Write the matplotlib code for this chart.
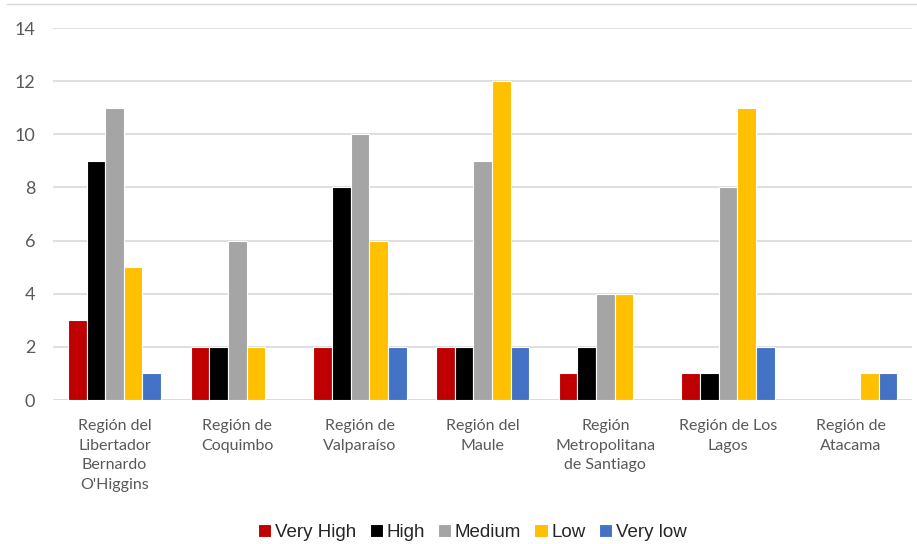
import numpy as np
import matplotlib.pyplot as plt
from matplotlib.lines import Line2D

regions = ["Región del\nLibertador\nBernardo\nO'Higgins", "Región de\nCoquimbo",
           "Región de\nValparaíso", "Región del\nMaule", "Región\nMetropolitana\nde Santiago",
           "Región de Los\nLagos", "Región de\nAtacama"]
levels = ["Very High", "High", "Medium", "Low", "Very low"]
very_high = [3, 2, 2, 2, 1, 1, 0]
high = [9, 2, 8, 2, 2, 1, 0]
medium = [11, 6, 10, 9, 4, 8, 0]
low = [5, 2, 6, 12, 4, 11, 1]
very_low = [1, 0, 2, 2, 0, 2, 1]
colors = ["#C00000", "#000000", "#A5A5A5", "#FFC000", "#4472C4"]

series = [very_high, high, medium, low, very_low]

fig = plt.figure(figsize=(9.17, 5.44), dpi=100)
ax = fig.add_axes([0.058, 0.2647, 0.9365, 0.6838])

x = np.arange(len(regions))
w = 0.152
for i, (vals, c) in enumerate(zip(series, colors)):
    ax.bar(x + (i - 2) * w, vals, w, color=c, edgecolor="white", linewidth=0.8,
           label=levels[i], zorder=3)

ax.set_xlim(-0.5, len(regions) - 0.5)
ax.set_ylim(0, 14)
ax.set_yticks(range(0, 15, 2))
ax.yaxis.grid(True, color="#D9D9D9", linewidth=1.2, zorder=0)
for s in ax.spines.values():
    s.set_visible(False)
ax.axhline(0, color="#D9D9D9", linewidth=1.2, zorder=1)
ax.tick_params(length=0)
ax.tick_params(axis="y", labelsize=13, labelcolor="#595959", pad=13)
ax.set_xticks(x)
ax.set_xticklabels(regions, fontsize=11.5, color="#595959", linespacing=1.5)
ax.tick_params(axis="x", pad=14)
for t in ax.get_xticklabels() + ax.get_yticklabels():
    t.set_family("Lato")

# thin frame line along the top of the chart area
fig.add_artist(Line2D([0.008, 1.0], [0.993, 0.993], color="#D9D9D9", linewidth=1))

leg = fig.legend(loc="lower center", bbox_to_anchor=(0.515, -0.025), ncol=5,
                 frameon=False, fontsize=13.5, handlelength=0.7, handleheight=0.7,
                 handletextpad=0.2, columnspacing=0.7)
for t in leg.get_texts():
    t.set_color("#262626")
    t.set_family("Liberation Sans")

fig.savefig("out.png", dpi=100)
